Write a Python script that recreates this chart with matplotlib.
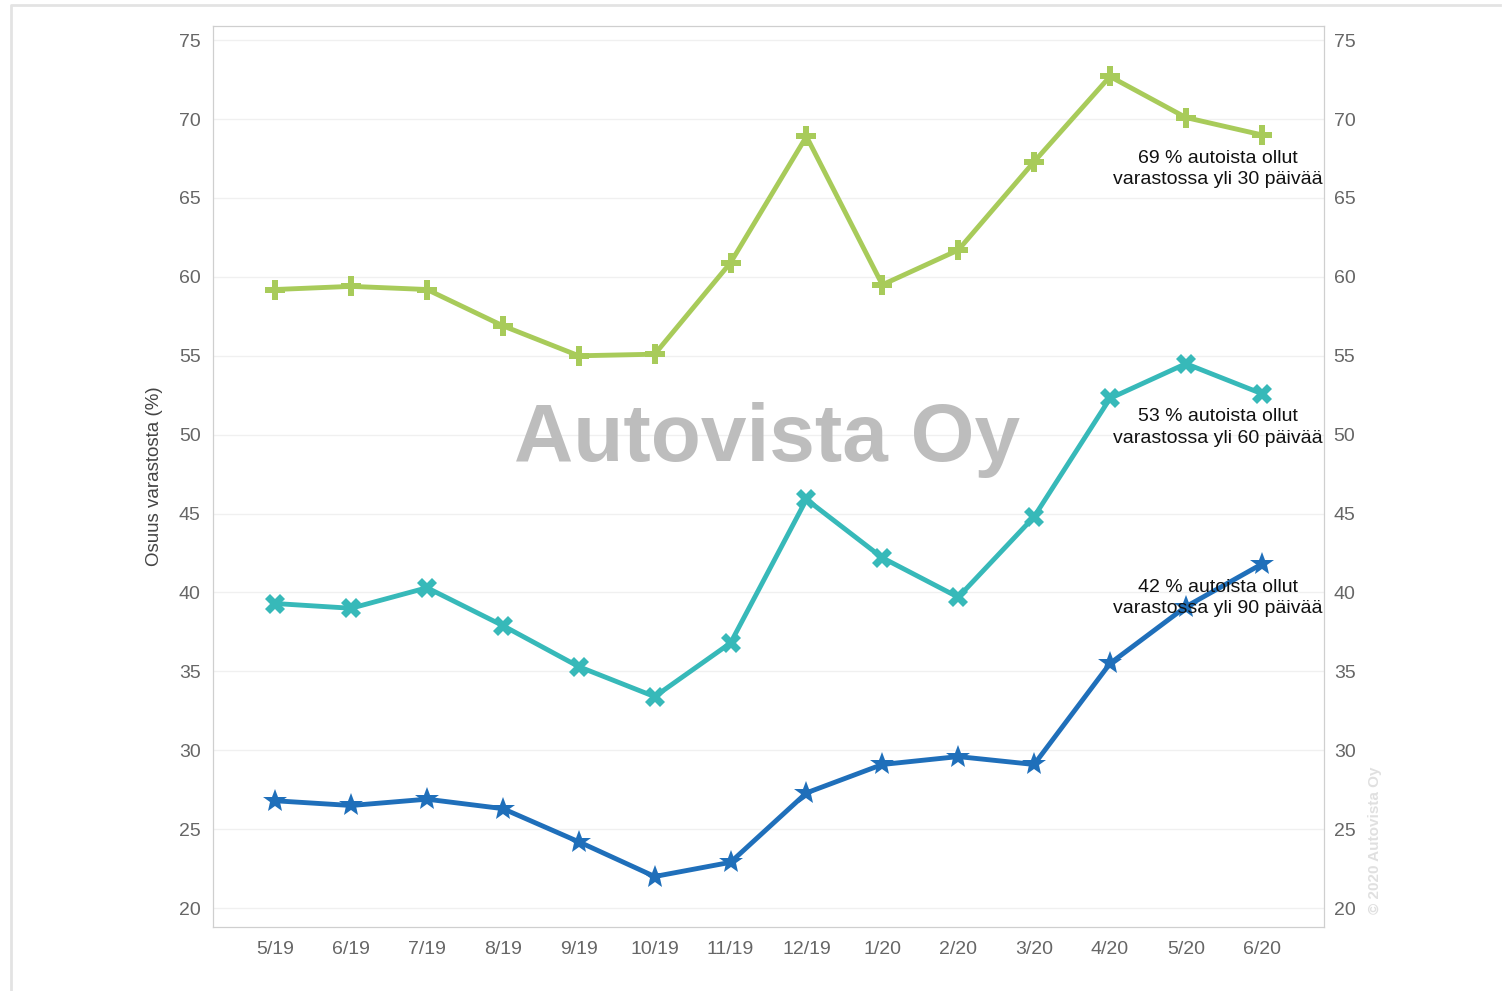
import matplotlib
matplotlib.use("Agg")
import matplotlib.pyplot as plt
from matplotlib.lines import Line2D

plt.rcParams["font.family"] = ["Liberation Sans", "DejaVu Sans"]

months = ["5/19", "6/19", "7/19", "8/19", "9/19", "10/19", "11/19",
          "12/19", "1/20", "2/20", "3/20", "4/20", "5/20", "6/20"]

# osuus autoista varastossa yli 30 / 60 / 90 päivää (%)
yli_30 = [59.2, 59.4, 59.2, 56.9, 55.0, 55.1, 60.9, 68.9, 59.5, 61.7, 67.3, 72.7, 70.1, 69.0]
yli_60 = [39.3, 39.0, 40.3, 37.9, 35.3, 33.4, 36.8, 45.9, 42.2, 39.7, 44.8, 52.3, 54.5, 52.6]
yli_90 = [26.8, 26.5, 26.9, 26.3, 24.2, 22.0, 22.9, 27.3, 29.1, 29.6, 29.1, 35.5, 39.1, 41.8]

labels = ["69 % autoista ollut\nvarastossa yli 30 päivää",
          "53 % autoista ollut\nvarastossa yli 60 päivää",
          "42 % autoista ollut\nvarastossa yli 90 päivää"]

fig = plt.figure(figsize=(15.1, 9.91), dpi=100)
# outer frame: top and left edge only
fig.lines.append(Line2D([11 / 1510, 11 / 1510, 1500 / 1510], [0, 1 - 5 / 991, 1 - 5 / 991],
                        transform=fig.transFigure, color="#e3e3e3", linewidth=2))

ax = fig.add_axes([213 / 1510, 64 / 991, 1111 / 1510, 901 / 991])
x = list(range(len(months)))

series = [
    (yli_30, "#a8cb5a", "P", 14),
    (yli_60, "#37b9b9", "X", 14),
    (yli_90, "#1f6fba", "*", 18),
]
for vals, col, mk, ms in series:
    ax.plot(x, vals, color=col, linewidth=3.5, marker=mk, markersize=ms,
            markeredgewidth=0, zorder=3)

for vals, txt in zip([yli_30, yli_60, yli_90], labels):
    ax.annotate(txt, xy=(x[-1], vals[-1]), xytext=(-44, -34),
                textcoords="offset pixels", ha="center", va="center",
                multialignment="center", fontsize=14, color="#111111",
                linespacing=1.35, zorder=5)

ax.set_xlim(-0.82, 13.82)
ax.set_ylim(18.8, 75.9)
ax.set_yticks(range(20, 80, 5))
ax.set_xticks(x)
ax.set_xticklabels(months)
ax.grid(axis="y", color="#f0f0f0", linewidth=1)
ax.set_axisbelow(True)
for s in ax.spines.values():
    s.set_color("#cfcfcf")
ax.tick_params(axis="both", length=0, labelsize=14, labelcolor="#666666")
ax.tick_params(axis="x", pad=10)
ax.tick_params(axis="y", pad=9)
ax.set_ylabel("Osuus varastosta (%)", fontsize=13.5, color="#444444", labelpad=11)

ax2 = ax.twinx()
ax2.set_ylim(ax.get_ylim())
ax2.set_yticks(range(20, 80, 5))
ax2.tick_params(axis="y", length=0, labelsize=14, labelcolor="#666666", pad=7)
for s in ax2.spines.values():
    s.set_color("#cfcfcf")

ax.text(0.499, 0.54, "Autovista Oy", transform=ax.transAxes, ha="center",
        va="center", fontsize=59, fontweight="bold", color="#bdbdbd", zorder=2)
fig.text(1375 / 1510, (991 - 840) / 991, "© 2020 Autovista Oy", rotation=90,
         ha="center", va="center", fontsize=11, fontweight="bold", color="#e0e0e0")

fig.savefig("out.png", dpi=100)
